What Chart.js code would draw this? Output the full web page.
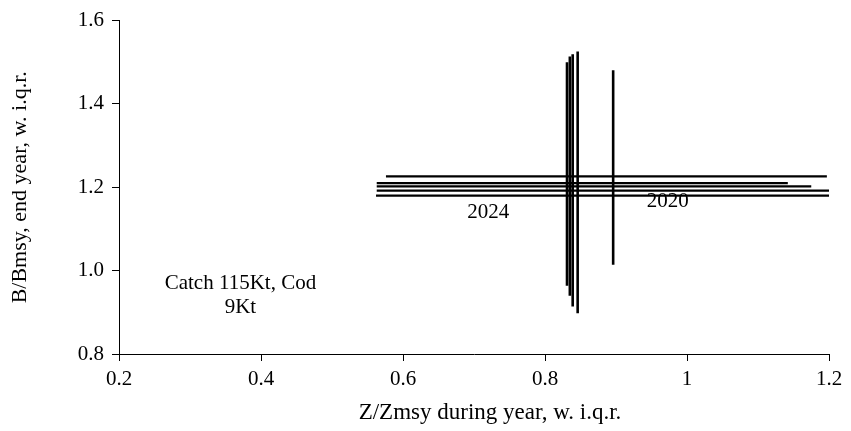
<!DOCTYPE html>
<html>
<head>
<meta charset="utf-8">
<script src="https://cdn.jsdelivr.net/npm/chart.js@4.4.0/dist/chart.umd.min.js"></script>
<style>
  html, body { margin: 0; padding: 0; background: #fff; }
  #wrap { width: 851px; height: 431px; }
</style>
</head>
<body>
<div id="wrap"><canvas id="kobe"></canvas></div>
<script>
// Years and their medians / inter-quartile ranges
const years = ['2020', '2021', '2022', '2023', '2024'];
const zMid = [0.896, 0.846, 0.839, 0.835, 0.831];
const zLo = [0.576, 0.563, 0.563, 0.563, 0.562];
const zHi = [1.197, 1.142, 1.175, 1.201, 1.205];
const bMid = [1.226, 1.210, 1.202, 1.192, 1.180];
const bLo = [1.014, 0.898, 0.914, 0.940, 0.964];
const bHi = [1.481, 1.526, 1.519, 1.514, 1.500];

const xTicks = [0.2, 0.4, 0.6, 0.8, 1, 1.2];
const yTicks = [0.8, 1.0, 1.2, 1.4, 1.6];

// text labels placed at data coordinates
const notes = [
    { text: '2024', x: 0.72, y: 1.14 },
    { text: '2020', x: 0.973, y: 1.167 },
    { text: 'Catch 115Kt, Cod', x: 0.371, y: 0.969 },
    { text: '9Kt', x: 0.371, y: 0.912 }
];
const xTitle = 'Z/Zmsy during year, w. i.q.r.';

const datasets = [];
years.forEach((yr, i) => {
    datasets.push({
        label: yr + ' Z',
        data: [{ x: zLo[i], y: bMid[i] }, { x: zHi[i], y: bMid[i] }],
        borderColor: '#000',
        borderWidth: 2.2,
        pointRadius: 0,
        showLine: true
    });
    datasets.push({
        label: yr + ' B',
        data: [{ x: zMid[i], y: bLo[i] }, { x: zMid[i], y: bHi[i] }],
        borderColor: '#000',
        borderWidth: 2.6,
        pointRadius: 0,
        showLine: true
    });
});

const fam = '"Liberation Serif", "Times New Roman", serif';

const notePlugin = {
    id: 'notes',
    afterDatasetsDraw(chart) {
        const ctx = chart.ctx;
        const xs = chart.scales.x, ys = chart.scales.y;
        ctx.save();
        ctx.fillStyle = '#000';
        ctx.font = '21px ' + fam;
        ctx.textAlign = 'center';
        ctx.textBaseline = 'middle';
        notes.forEach(n => {
            ctx.fillText(n.text, xs.getPixelForValue(n.x), ys.getPixelForValue(n.y));
        });
        // x axis title, sits a little right of the plot centre like the original
        ctx.font = '23px ' + fam;
        const area = chart.chartArea;
        ctx.fillText(xTitle, (area.left + area.right) / 2 + 16, 413);
        ctx.restore();
    }
};

const tickFont = { family: fam, size: 21 };
const titleFont = { family: fam, size: 22 };

new Chart(document.getElementById('kobe'), {
    type: 'scatter',
    data: { datasets: datasets },
    plugins: [notePlugin],
    options: {
        responsive: true,
        maintainAspectRatio: false,
        animation: false,
        layout: { padding: { top: 18, right: 22, left: 0, bottom: 0 } },
        plugins: {
            legend: { display: false },
            tooltip: { enabled: false }
        },
        scales: {
            x: {
                type: 'linear',
                min: 0.2,
                max: 1.2,
                afterBuildTicks: scale => { scale.ticks = xTicks.map(v => ({ value: v })); },
                afterFit: scale => { scale.height = 77; },
                grid: { drawOnChartArea: false, drawTicks: true, tickLength: 7, tickColor: '#000' },
                border: { display: true, color: '#000', width: 1 },
                ticks: {
                    color: '#000',
                    font: tickFont,
                    padding: 6,
                    maxRotation: 0,
                    callback: v => String(v)
                },
                title: { display: false }
            },
            y: {
                type: 'linear',
                min: 0.8,
                max: 1.6,
                afterBuildTicks: scale => { scale.ticks = yTicks.map(v => ({ value: v })); },
                afterFit: scale => { scale.width = 119; },
                grid: { drawOnChartArea: false, drawTicks: true, tickLength: 7, tickColor: '#000' },
                border: { display: true, color: '#000', width: 1 },
                ticks: {
                    color: '#000',
                    font: tickFont,
                    padding: 8,
                    callback: v => v.toFixed(1)
                },
                title: {
                    display: true,
                    text: 'B/Bmsy, end year, w. i.q.r.',
                    color: '#000',
                    font: titleFont,
                    padding: { top: 7, bottom: 0 }
                }
            }
        }
    }
});
</script>
</body>
</html>
